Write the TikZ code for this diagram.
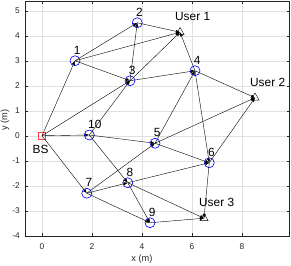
\documentclass[tikz,border=0pt]{standalone}
\usepackage{fontspec}
\setmainfont{Liberation Sans}
\usetikzlibrary{arrows.meta, shapes.geometric}
\definecolor{axline}{HTML}{262626}
\definecolor{gridline}{HTML}{E0E0E0}

\begin{document}
\begin{tikzpicture}[font=\fontsize{9.5}{10}\selectfont,
 relay/.style={circle, draw=blue, line width=0.7pt, minimum size=4mm, inner sep=0pt},
 user/.style={regular polygon, regular polygon sides=3, draw, line width=0.45pt, minimum size=3.8mm, inner sep=0pt},
 base/.style={rectangle, draw=red!75, line width=0.5pt, minimum size=2.8mm, inner sep=0pt},
 tag/.style={font=\fontsize{13.5}{14}\selectfont, anchor=west, inner sep=0pt},
 link/.style={-{Latex[length=1.6mm,width=1.3mm]}, line width=0.45pt}]
\useasboundingbox (-1.68,-5.17) rectangle (9.96,5.43);

% axes with grid
\foreach \x in {0,2,...,8} {\draw[gridline, line width=0.4pt] (\x,-4) -- (\x,5.38);}
\foreach \y in {-4,...,5} {\draw[gridline, line width=0.4pt] (-0.68,\y) -- (9.88,\y);}
\draw[axline, line width=0.5pt] (-0.68,-4) rectangle (9.88,5.38);
\foreach \x in {0,2,...,8} {
  \draw[axline, line width=0.5pt] (\x,-4) -- ++(0,0.1) (\x,5.38) -- ++(0,-0.1);
  \node[axline] (xt\x) at (\x,-4.42) {\x};}
\foreach \y [count=\i] in {-4,...,5} {
  \draw[axline, line width=0.5pt] (-0.68,\y) -- ++(0.1,0) (9.88,\y) -- ++(-0.1,0);
  \node[axline, anchor=east, inner sep=0pt] (yt\i) at (-0.88,\y) {\y};}
\node[axline, font=\fontsize{10.5}{11}\selectfont] (xlab) at (4,-4.94) {x (m)};
\node[axline, font=\fontsize{10.5}{11}\selectfont, rotate=90] (ylab) at (-1.48,0.62) {y (m)};

% base station, relays, users
\node[base] (bs) at (0,0) {};
\node[tag, anchor=center] (tbs) at (-0.06,-0.53) {BS};
\foreach \n/\x/\y in {1/1.32/3.0, 2/3.81/4.52, 3/3.52/2.2, 4/6.12/2.6, 5/4.52/-0.3,
  6/6.69/-1.08, 7/1.79/-2.3, 8/3.43/-1.88, 9/4.32/-3.48, 10/1.89/0.03}
  {\node[relay] (n\n) at (\x,\y) {};
   \node[tag] (t\n) at (\x-0.05,\y+0.43) {\n};}
\foreach \n/\x/\y in {1/5.52/4.14, 2/8.52/1.52, 3/6.48/-3.3}
  {\node[user] (u\n) at (\x,\y) {};
   \node[tag] (tu\n) at (\x-0.2,\y+0.63) {User \n};}

% links
\foreach \a/\b in {bs/n1,bs/n3,bs/n10,bs/n7,n1/n2,n1/u1,n1/n3,n2/u1,n3/n2,n3/u1,n3/n4,
  n10/n3,n10/n5,n10/n8,n4/u1,n4/u2,n4/n6,n5/n4,n5/u2,n5/n6,n6/u2,n6/u3,
  n7/n5,n7/n8,n7/n9,n8/n6,n8/n9,n8/u3,n9/u3}
  {\draw[link](\a.center)--(\b.center);}

\end{tikzpicture}
\end{document}
